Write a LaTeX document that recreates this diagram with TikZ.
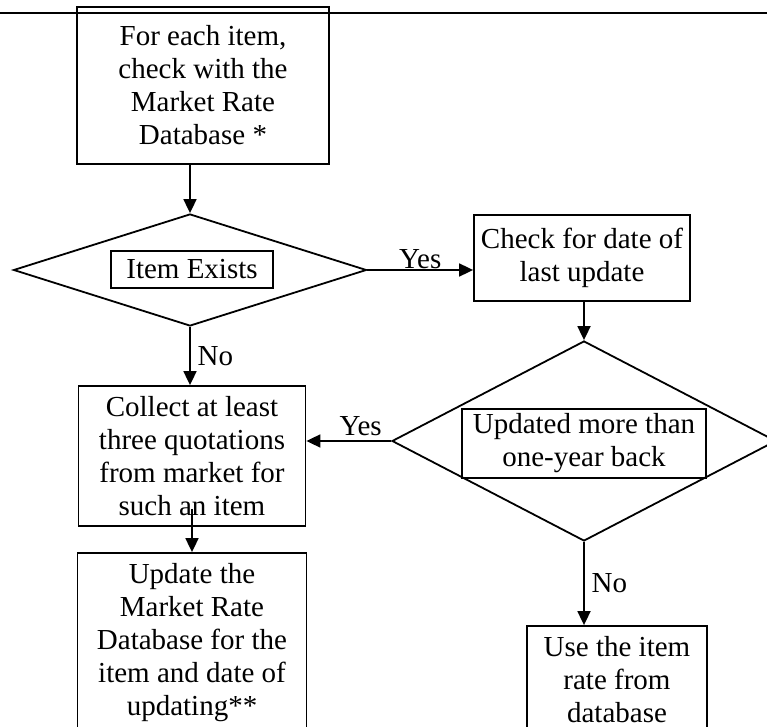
\documentclass[tikz,border=0pt]{standalone}
\usepackage{fontspec}
\setmainfont{Liberation Serif}
\usetikzlibrary{shapes.geometric,arrows.meta}

\begin{document}
\begin{tikzpicture}[x=0.5pt, y=-0.5pt, line width=0.9pt,
        font=\fontsize{14.5}{16.5}\selectfont,
        box/.style={draw, align=center, inner sep=0pt},
        decision/.style={draw, diamond, inner sep=0pt},
        arr/.style={-{Triangle[length=7pt,width=6.5pt]}}]
        \path[use as bounding box] (0,0) rectangle (767,727);
        \clip (0,0) rectangle (767,727);
        % rule at the top of the page
        \draw[line width=1.3pt] (0,13) -- (767,13);
        % left column
        \node[box, minimum width=126pt, minimum height=78.5pt] (check) at (203,85.5) {For each item,\\check with the\\Market Rate\\Database *};
        \node[decision, minimum width=176.5pt, minimum height=56pt] (exists) at (190,270) {};
        \node[box, minimum width=81pt, minimum height=18.5pt] (existstext) at (192,269.5) {Item Exists};
        \node[box, minimum width=113.5pt, minimum height=70pt] (collect) at (192,456) {Collect at least\\three quotations\\from market for\\such an item};
        \node[box, minimum width=114.5pt, minimum height=90pt] (update) at (192,643) {Update the\\Market Rate\\Database for the\\item and date of\\updating**};
        % right column
        \node[box, minimum width=108pt, minimum height=43pt] (lastdate) at (582,258) {Check for date of\\last update};
        \node[decision, minimum width=192pt, minimum height=100pt] (older) at (584,441) {};
        \node[box, minimum width=122pt, minimum height=34.5pt] (oldertext) at (584,443.5) {Updated more than\\one-year back};
        \node[box, minimum width=90pt, minimum height=54pt] (userate) at (617,680) {Use the item\\rate from\\database};
        % connectors
        \draw[arr] (exists.north |- check.south) -- (exists.north);
        \draw[arr] (exists.east) -- (exists.east -| lastdate.west) node[midway, above, inner sep=0pt] {Yes};
        \draw[arr] (exists.south) -- (exists.south |- collect.north) node[midway, right] {No};
        \draw[arr] (older.north |- lastdate.south) -- (older.north);
        \draw[arr] (older.west) -- (older.west -| collect.east) node[pos=0.36, above, inner sep=2pt] {Yes};
        \draw[arr] (older.south) -- (older.south |- userate.north) node[midway, right] {No};
        \draw[arr] ([yshift=9pt]collect.south) -- (update.north);
        \end{tikzpicture}
\end{document}
